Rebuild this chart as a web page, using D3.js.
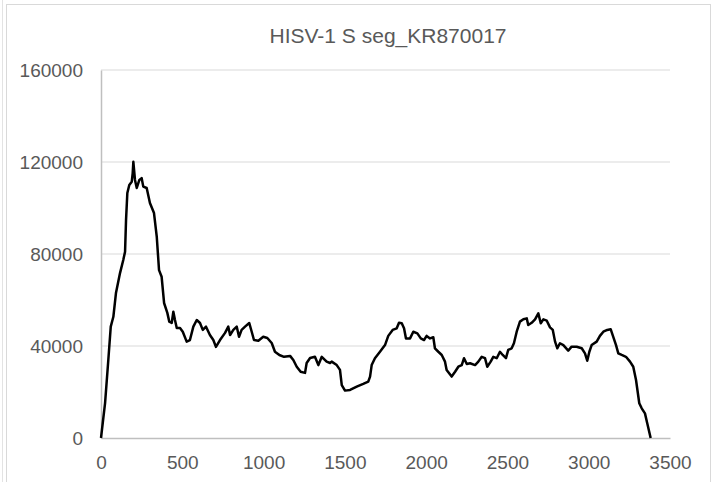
<!DOCTYPE html>
<html>
<head>
<meta charset="utf-8">
<script src="https://cdn.jsdelivr.net/npm/d3@7"></script>
<style>
  body { margin: 0; background: #fff; }
  text { font-family: "Liberation Sans", Arial, sans-serif; fill: #595959; }
</style>
</head>
<body>
<svg id="chart"></svg>
<script>
// chart data
var chartTitle = "HISV-1 S seg_KR870017";
var positions = [0,25,45,60,76,92,117,137,148,154,162,174,189,195,199,209,220,236,250,260,
  281,301,326,343,357,373,388,408,420,435,445,455,466,486,503,527,547,568,589,609,
  626,646,670,691,707,732,763,783,794,814,835,849,865,886,912,927,941,968,998,1023,
  1050,1070,1097,1126,1163,1183,1204,1228,1255,1265,1286,1316,1337,1358,1388,1409,1419,1450,1470,1481,
  1501,1532,1573,1613,1644,1655,1665,1685,1716,1747,1767,1794,1819,1833,1850,1864,1876,1901,1921,1946,
  1967,1987,2003,2024,2044,2054,2075,2096,2116,2126,2157,2178,2198,2219,2233,2250,2270,2301,2321,2342,
  2362,2376,2397,2413,2434,2454,2471,2491,2505,2526,2540,2557,2577,2598,2619,2628,2649,2670,2690,2705,
  2721,2742,2762,2779,2793,2807,2823,2844,2874,2895,2926,2957,2977,2991,3004,3018,3049,3069,3090,3114,
  3135,3151,3168,3182,3203,3229,3254,3274,3291,3311,3326,3346,3360,3381];
var coverage = [0,15200,33900,48400,52700,63000,71700,77400,81000,94800,106500,110000,111400,115200,120100,112200,108700,112200,113000,109300,
  108700,102200,97800,87500,73000,70100,58700,54400,50600,50000,54900,51300,47800,47800,46200,41900,42600,48400,51300,50000,
  47000,48400,44800,42600,39600,42600,45700,48400,44800,47000,48400,44000,47000,48400,50000,46200,42600,42300,44000,43500,
  41300,37500,36100,35300,35700,33900,31000,28800,28300,32600,34800,35300,31700,35300,33200,32600,33200,31700,29600,23000,
  20600,20900,22300,23500,24500,26700,31700,34700,37500,40400,44400,47000,47700,50100,49900,47700,43300,43300,46200,45500,
  43300,42600,44400,43300,43800,39000,37500,36100,33200,29600,26700,28800,31000,31700,34700,32200,32500,31700,33200,35300,
  34700,31000,33200,35300,34700,37500,36100,34700,38300,39000,41200,46200,50600,51600,52000,49100,50100,51600,54200,49900,
  51600,51000,48100,47000,41900,39000,41200,40400,38000,39700,39700,39000,36800,33600,37500,40400,41900,44400,46200,47000,
  47300,44000,40400,36800,36100,35300,33200,31000,25200,15100,12900,10700,6400,0];
var xTicks = [0,500,1000,1500,2000,2500,3000,3500];
var yTicks = [0,40000,80000,120000,160000];

var width = 717, height = 482;

var svg = d3.select("#chart")
    .attr("width", width)
    .attr("height", height);

// outer frame
svg.append("line")
    .attr("x1", 2.5).attr("x2", 2.5).attr("y1", 0).attr("y2", height)
    .attr("stroke", "#e3e3e3");
svg.append("rect")
    .attr("x", 6.5).attr("y", 4.5)
    .attr("width", 704).attr("height", height + 10)
    .attr("fill", "#fff")
    .attr("stroke", "#d9d9d9");

var x = d3.scaleLinear().domain([0, 3500]).range([101, 670]);
var y = d3.scaleLinear().domain([0, 160000]).range([438, 70]);

// gridlines
svg.append("g")
  .selectAll("line")
  .data(yTicks.filter(function(d) { return d > 0; }))
  .enter().append("line")
    .attr("x1", x(0)).attr("x2", x(3500))
    .attr("y1", function(d) { return y(d); })
    .attr("y2", function(d) { return y(d); })
    .attr("stroke", "#d9d9d9")
    .attr("stroke-width", 1);

// axes
var yAxis = svg.append("g")
    .attr("transform", "translate(" + x(0) + ",0)")
    .call(d3.axisLeft(y).tickValues(yTicks).tickSize(0).tickPadding(18).tickFormat(d3.format("d")));
var xAxis = svg.append("g")
    .attr("transform", "translate(0," + y(0) + ")")
    .call(d3.axisBottom(x).tickValues(xTicks).tickSize(0).tickPadding(18).tickFormat(d3.format("d")));

[yAxis, xAxis].forEach(function(g) {
  g.select(".domain").attr("stroke", "#bfbfbf").attr("stroke-width", 1.5);
  g.selectAll("text").style("font-size", "19px").attr("fill", "#595959");
});

// coverage line
var line = d3.line()
    .x(function(d) { return x(d[0]); })
    .y(function(d) { return y(d[1]); });

svg.append("path")
    .datum(d3.zip(positions, coverage))
    .attr("d", line)
    .attr("fill", "none")
    .attr("stroke", "#000")
    .attr("stroke-width", 2.5)
    .attr("stroke-linejoin", "round");

svg.append("text")
    .attr("x", 388)
    .attr("y", 43)
    .attr("text-anchor", "middle")
    .style("font-size", "21px")
    .text(chartTitle);
</script>
</body>
</html>
